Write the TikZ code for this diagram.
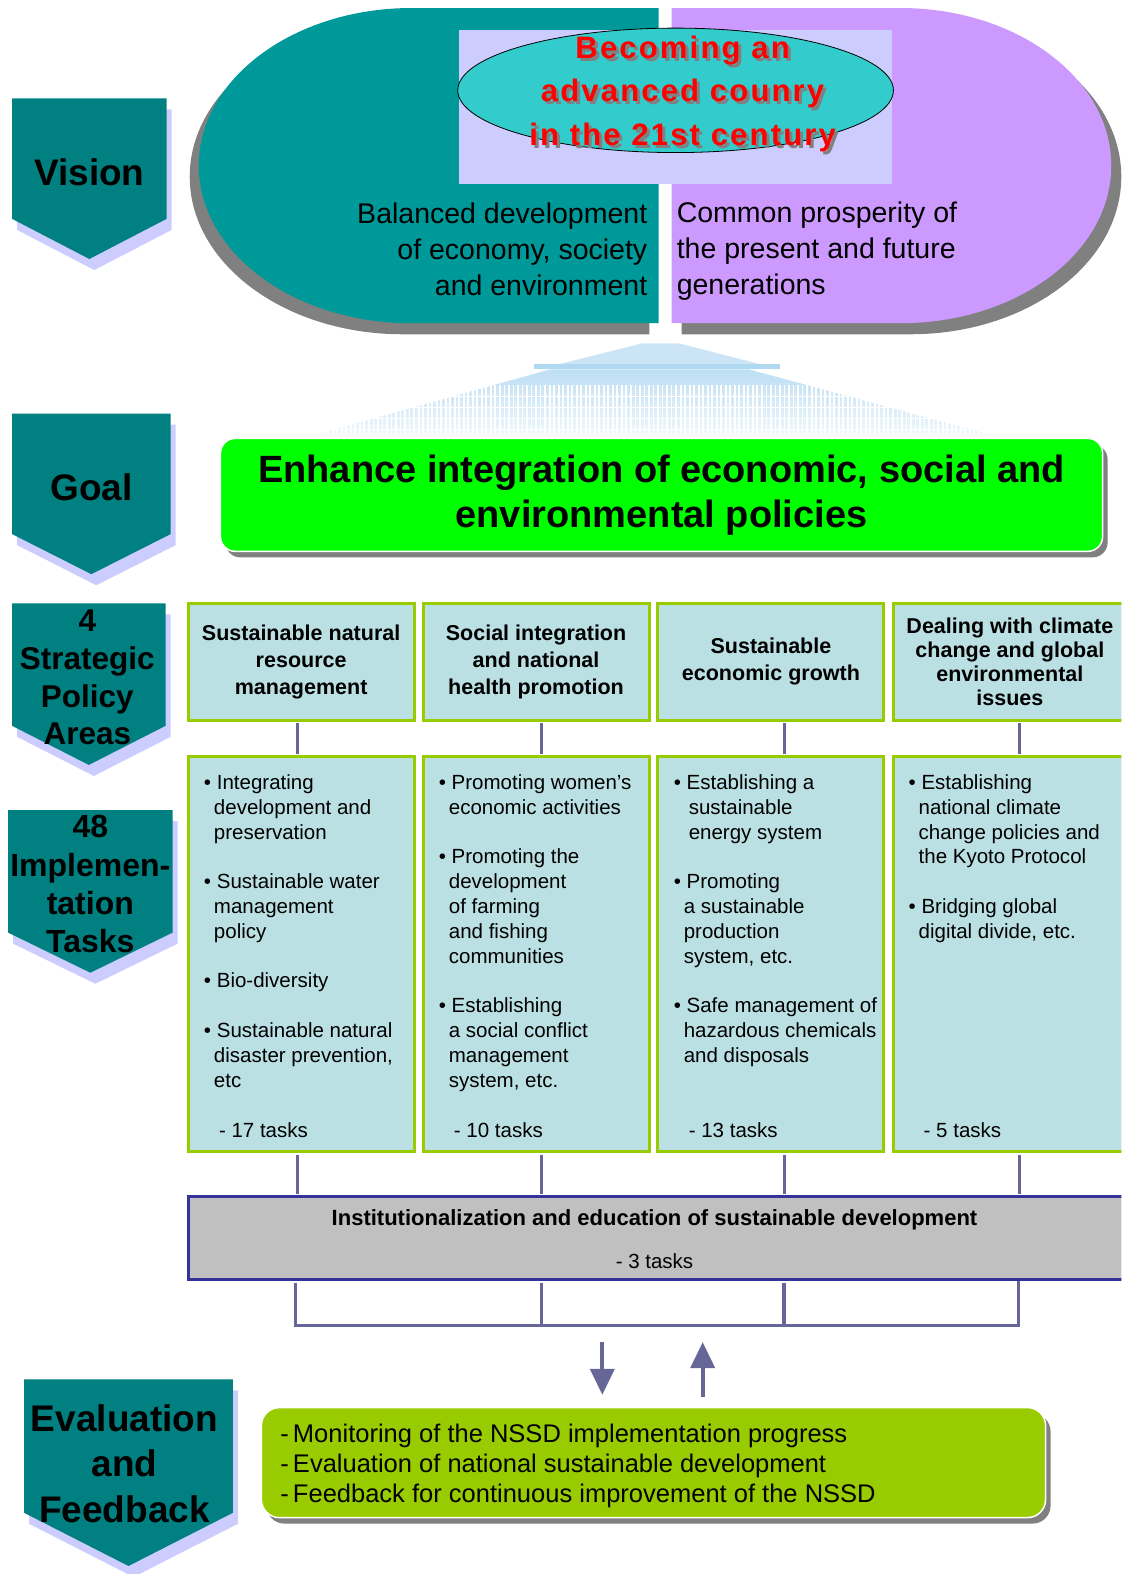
\documentclass[tikz,border=0pt]{standalone}
\usepackage{fontspec}
\setmainfont{Liberation Sans}
\usetikzlibrary{arrows.meta,shadows,calc}
\definecolor{tagteal}{HTML}{008080}
\definecolor{tagshade}{HTML}{CCCCFF}
\definecolor{leftteal}{HTML}{009999}
\definecolor{rightlil}{HTML}{CC99FF}
\definecolor{ovalcyan}{HTML}{33CCCC}
\definecolor{boxblue}{HTML}{BBE0E3}
\definecolor{boxgreen}{HTML}{99CC00}
\definecolor{connblue}{HTML}{666699}
\definecolor{goalgreen}{HTML}{00FF00}
\definecolor{instgray}{HTML}{C0C0C0}
\definecolor{instedge}{HTML}{333399}
\definecolor{fanblue}{HTML}{A8D4F0}
\definecolor{shadowgray}{HTML}{808080}
\newcommand\tagshape[5]{%
  \fill[tagshade] ({#1+5},{#3+11}) -- ({#2+5},{#3+11}) -- ({#2+5},{#4+11}) -- ({(#1+#2)/2+5},{#5+11}) -- ({#1+5},{#4+11}) -- cycle;
  \fill[tagteal] (#1,#3) -- (#2,#3) -- (#2,#4) -- ({(#1+#2)/2},#5) -- (#1,#4) -- cycle;}
\newcommand\indt{\hspace*{10pt}}
\newcommand\indw{\hspace*{15pt}}
\begin{document}
\begin{tikzpicture}[x=1.00358pt,y=-1.00358pt,
  tagtext/.style={font=\bfseries\fontsize{37}{45.5}\selectfont, align=center, text=black, inner sep=0pt},
  redtext/.style={font=\bfseries\fontsize{31}{43.5}\selectfont\addfontfeatures{LetterSpace=7}, align=center, inner sep=0pt},
  subtext/.style={font=\fontsize{28.5}{36}\selectfont, inner sep=0pt},
  goalbox/.style={fill=goalgreen, draw=white, line width=1.5pt, rounded corners=15pt, minimum width=882pt, minimum height=113pt, align=center, font=\bfseries\fontsize{38}{45}\selectfont, drop shadow={shadow xshift=5pt, shadow yshift=-6pt, fill=shadowgray, opacity=1}},
  hdr/.style={draw=boxgreen, line width=3pt, fill=boxblue, minimum width=226pt, minimum height=117pt, align=center, inner sep=1pt, font=\bfseries\fontsize{21.5}{27}\selectfont},
  taskbox/.style={draw=boxgreen, line width=3pt, fill=boxblue, minimum width=226pt, minimum height=395pt},
  tasktext/.style={font=\fontsize{20.5}{24.8}\selectfont, align=left, inner sep=0pt, anchor=north west},
  counttext/.style={font=\fontsize{20.5}{24.8}\selectfont, inner sep=0pt, anchor=base west},
  inst/.style={draw=instedge, line width=3pt, fill=instgray, minimum width=939pt, minimum height=83pt},
  conn/.style={draw=connblue, line width=3pt},
  bigarrow/.style={draw=connblue, line width=4pt, -{Triangle[width=24pt,length=26pt]}},
  evalbox/.style={fill=boxgreen, draw=white, line width=1.5pt, rounded corners=18pt, minimum width=784pt, minimum height=110pt, drop shadow={shadow xshift=5pt, shadow yshift=-6pt, fill=shadowgray, opacity=1}},
  evaltext/.style={font=\fontsize{25.5}{30}\selectfont, align=left, inner sep=0pt, anchor=west}]
\useasboundingbox (0,0) rectangle (1117,1568);
\clip (0,0) rectangle (1117,1568);

% ---------- Vision ----------
\fill[shadowgray] (647,19) -- (401,19) arc[start angle=270,end angle=90,x radius=212,y radius=157] -- (647,333) -- cycle;
\fill[shadowgray] (679,19) -- (907,19) arc[start angle=270,end angle=450,x radius=210,y radius=157] -- (679,333) -- cycle;
\fill[leftteal] (656,8) -- (410,8) arc[start angle=270,end angle=90,x radius=212,y radius=157] -- (656,322) -- cycle;
\fill[rightlil] (669,8) -- (897,8) arc[start angle=270,end angle=450,x radius=210,y radius=157] -- (669,322) -- cycle;
\fill[tagshade] (457,30) rectangle (889,183);
\draw[fill=ovalcyan, line width=0.8pt] (673,90) ellipse[x radius=217, y radius=62];
\node[redtext, text=gray] (vshadow) at (683,96.5) {Becoming an\\advanced counry\\in the 21st century};
\node[redtext, text=red] (vtitle) at (680,93.5) {Becoming an\\advanced counry\\in the 21st century};
\node[subtext, anchor=east, align=right] (bal) at (645,248) {Balanced development\\of economy, society\\and environment};
\node[subtext, anchor=west, align=left] (com) at (674,250) {Common prosperity of\\the present and future\\generations};

% ---------- fan ----------
\fill[fanblue!60] (640,342) -- (676,342) -- (762,364) -- (552,364) -- cycle;
\fill[fanblue!90] (532,363) rectangle (777,368);
\shade[top color=fanblue!75, bottom color=fanblue!20] (548,368) -- (746,368) -- (983,432) -- (318,432) -- cycle;
\foreach \xx in {318,322.5,...,985} \draw[white, line width=1.8pt] (\xx,384) -- (\xx,433);
\foreach \yy in {395,406,417,428} \draw[white, line width=1.2pt] (310,\yy) -- (990,\yy);

% ---------- Goal ----------
\node[goalbox] (goal) at (659,493) {Enhance integration of economic, social and\\environmental policies};

% ---------- columns ----------
\node[hdr] (h1) at (300,659) {Sustainable natural\\resource\\management};
\node[hdr] (h2) at (534,659) {Social integration\\and national\\health promotion};
\node[hdr] (h3) at (768,659) {Sustainable\\economic growth};
\node[hdr, minimum width=232pt, font=\bfseries\fontsize{21.5}{24}\selectfont] (h4) at (1006,659) {Dealing with climate\\change and global\\environmental\\issues};

\node[taskbox] (t1) at (300,950.5) {};
\node[taskbox] (t2) at (534,950.5) {};
\node[taskbox] (t3) at (768,950.5) {};
\node[taskbox, minimum width=232pt] (t4) at (1006,950.5) {};

\node[tasktext] (x1) at (203,769) {\strut•\ Integrating\\\indt development and\\\indt preservation\\[24.8pt]•\ Sustainable water\\\indt management\\\indt policy\\[24.8pt]•\ Bio-diversity\\[24.8pt]•\ Sustainable natural\\\indt disaster prevention,\\\indt etc};
\node[tasktext] (x2) at (437,769) {\strut•\ Promoting women’s\\\indt economic activities\\[24.8pt]•\ Promoting the\\\indt development\\\indt of farming\\\indt and fishing\\\indt communities\\[24.8pt]•\ Establishing\\\indt a social conflict\\\indt management\\\indt system, etc.};
\node[tasktext] (x3) at (671,769) {\strut•\ Establishing a\\\indw sustainable\\\indw energy system\\[24.8pt]•\ Promoting\\\indt a sustainable\\\indt production\\\indt system, etc.\\[24.8pt]•\ Safe management of\\\indt hazardous chemicals\\\indt and disposals};
\node[tasktext] (x4) at (905,769) {\strut•\ Establishing\\\indt national climate\\\indt change policies and\\\indt the Kyoto Protocol\\[24.8pt]•\ Bridging global\\\indt digital divide, etc.};

\node[counttext] (n1) at (218,1133) {- 17 tasks};
\node[counttext] (n2) at (452,1133) {- 10 tasks};
\node[counttext] (n3) at (686,1133) {- 13 tasks};
\node[counttext] (n4) at (920,1133) {- 5 tasks};

\node[inst] (inst) at (655.5,1233.5) {};
\node[font=\bfseries\fontsize{22}{26}\selectfont, inner sep=0pt] (itxt) at (652,1215) {Institutionalization and education of sustainable development};
\node[font=\fontsize{20.5}{24}\selectfont, inner sep=0pt] (icnt) at (652,1256) {- 3 tasks};

% connectors
\draw[conn, shorten <=1.5pt, shorten >=1.5pt] ([xshift=-4pt]h1.south) -- ([xshift=-4pt]t1.north);
\draw[conn, shorten <=1.5pt, shorten >=1.5pt] ([xshift=5pt]h2.south) -- ([xshift=5pt]t2.north);
\draw[conn, shorten <=1.5pt, shorten >=1.5pt] ([xshift=14pt]h3.south) -- ([xshift=14pt]t3.north);
\draw[conn, shorten <=1.5pt, shorten >=1.5pt] ([xshift=10pt]h4.south) -- ([xshift=10pt]t4.north);
\draw[conn, shorten <=1.5pt, shorten >=1.5pt] ([xshift=-4pt]t1.south) -- ([xshift=-4pt]t1.south |- inst.north);
\draw[conn, shorten <=1.5pt, shorten >=1.5pt] ([xshift=5pt]t2.south) -- ([xshift=5pt]t2.south |- inst.north);
\draw[conn, shorten <=1.5pt, shorten >=1.5pt] ([xshift=14pt]t3.south) -- ([xshift=14pt]t3.south |- inst.north);
\draw[conn, shorten <=1.5pt, shorten >=1.5pt] ([xshift=10pt]t4.south) -- ([xshift=10pt]t4.south |- inst.north);

\coordinate (k1) at (294,1320);
\coordinate (k2) at (539,1320);
\coordinate (k3) at (781,1320);
\coordinate (k4) at (1015,1320);
\draw[conn, shorten <=1.5pt] (k1 |- inst.south) -- (k1) -- (k4) -- (k4 |- inst.south);
\draw[conn, shorten <=1.5pt] (k2 |- inst.south) -- (k2);
\draw[conn, shorten <=1.5pt] (k3 |- inst.south) -- (k3);

% ---------- Evaluation ----------
\node[evalbox] (eval) at (651,1457) {};
\node[evaltext] (etxt) at (279,1460) {-\,Monitoring of the NSSD implementation progress\\-\,Evaluation of national sustainable development\\-\,Feedback for continuous improvement of the NSSD};
\coordinate (d1) at (600,1337);
\coordinate (u1) at (700,1337);
\draw[bigarrow, shorten >=12pt] (d1) -- (d1 |- eval.north);
\draw[bigarrow, shorten <=10pt] (u1 |- eval.north) -- (u1);

% ---------- side tags ----------
\tagshape{12}{166}{98}{218}{258}
\tagshape{12}{170}{412}{532}{572}
\tagshape{12}{165}{601}{723}{762}
\tagshape{8}{172}{807}{929}{969}
\tagshape{24}{232}{1374}{1507}{1560}
\node[tagtext] (vision) at (89,172) {Vision};
\node[tagtext] (goaltag) at (91,485) {Goal};
\node[tagtext, font=\bfseries\fontsize{31.5}{37.7}\selectfont] (spa) at (87,675) {4\\Strategic\\Policy\\Areas};
\node[tagtext, font=\bfseries\fontsize{32}{38.3}\selectfont] (impl) at (90,881) {48\\Implemen-\\tation\\Tasks};
\node[tagtext, font=\bfseries\fontsize{37}{45.5}\selectfont] (evtag) at (124,1458) {Evaluation\\and\\Feedback};
\end{tikzpicture}
\end{document}
